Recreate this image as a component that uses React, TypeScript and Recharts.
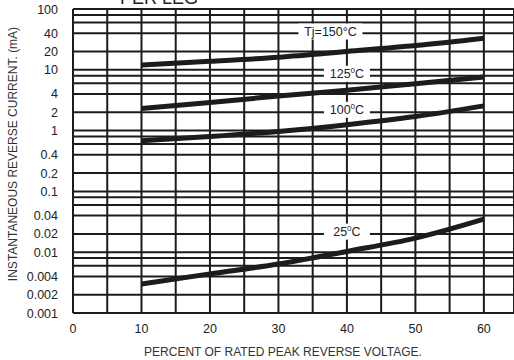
import React from 'react';
import { LineChart, Line, XAxis, YAxis, CartesianGrid, ReferenceDot } from 'recharts';

// percent of rated peak reverse voltage
const voltagePct = [10, 20, 30, 40, 50, 60];

// reverse current (mA) per junction temperature
const current150 = [12, 13.8, 16.1, 20, 25, 33];
const current125 = [2.3, 2.9, 3.7, 4.6, 5.9, 7.6];
const current100 = [0.68, 0.8, 0.97, 1.25, 1.7, 2.55];
const current25 = [0.003, 0.0044, 0.0064, 0.0103, 0.017, 0.035];

const xTicks = [0, 5, 10, 15, 20, 25, 30, 35, 40, 45, 50, 55, 60];
const xLabels = [0, 10, 20, 30, 40, 50, 60];

// every grid line on the log axis, and the ones that carry a label
const yGrid = [
  100, 80, 60, 40, 20, 10, 8, 6, 4, 2, 1, 0.8, 0.6, 0.4, 0.2, 0.1, 0.08, 0.06, 0.04, 0.02, 0.01,
  0.008, 0.006, 0.004, 0.002, 0.001,
];
const yLabels = [100, 40, 20, 10, 4, 2, 1, 0.4, 0.2, 0.1, 0.04, 0.02, 0.01, 0.004, 0.002, 0.001];

// curve tags: prefix, temperature, where they sit
const tagText = ['Tj=150', '125', '100', '25'];
const tagX = [37.6, 40, 40, 40];
const tagY = [42.6, 8.6, 2.2, 0.0218];

const data = voltagePct.map((v, i) => ({
  v,
  t150: current150[i],
  t125: current125[i],
  t100: current100[i],
  t25: current25[i],
}));

const FONT = '"Liberation Sans", Arial, Helvetica, sans-serif';
const INK = '#1c1c1c';

const YTick = (props: any) => {
  const { x, y, payload } = props;
  if (!yLabels.includes(payload.value)) return null;
  return (
    <text x={x} y={y} dy="0.36em" textAnchor="end" fontFamily={FONT} fontSize={12.5} fill="#222">
      {payload.value}
    </text>
  );
};

const XTick = (props: any) => {
  const { x, y, payload } = props;
  if (!xLabels.includes(payload.value)) return null;
  return (
    <text x={x} y={y} dy="0.71em" textAnchor="middle" fontFamily={FONT} fontSize={12.5} fill="#222">
      {payload.value}
    </text>
  );
};

const tagShape = (i: number) => (props: any) => {
  const { cx, cy } = props;
  const first = i === 0;
  const w = first ? 64 : 46;
  return (
    <g>
      <rect x={cx - w / 2} y={cy - 8} width={w} height={16} fill="#fff" />
      <text x={cx} y={cy} dy="0.36em" textAnchor="middle" fontFamily={FONT} fontSize={12.5} fill="#222">
        {tagText[i]}
        {first ? (
          <tspan>°C</tspan>
        ) : (
          <>
            <tspan fontSize={8} dy="-5">0</tspan>
            <tspan dy="5">C</tspan>
          </>
        )}
      </text>
    </g>
  );
};

export default function App() {
  return (
    <div style={{ position: 'absolute', left: 0, top: 0 }}>
      <LineChart width={514} height={360} data={data} margin={{ top: 9, right: 0, bottom: 0, left: 0 }}>
        <CartesianGrid stroke={INK} strokeWidth={2} />
        <XAxis
          dataKey="v"
          type="number"
          domain={[0, 64.4]}
          ticks={xTicks}
          interval={0}
          allowDataOverflow
          axisLine={false}
          tickLine={false}
          tickMargin={5}
          height={47}
          tick={<XTick />}
        />
        <YAxis
          type="number"
          scale="log"
          domain={[0.001, 100]}
          ticks={yGrid}
          interval={0}
          allowDataOverflow
          axisLine={false}
          tickLine={false}
          width={73}
          tickMargin={9}
          tick={<YTick />}
        />
        <Line dataKey="t150" type="monotone" stroke={INK} strokeWidth={5} dot={false} isAnimationActive={false} />
        <Line dataKey="t125" type="monotone" stroke={INK} strokeWidth={5} dot={false} isAnimationActive={false} />
        <Line dataKey="t100" type="monotone" stroke={INK} strokeWidth={5} dot={false} isAnimationActive={false} />
        <Line dataKey="t25" type="monotone" stroke={INK} strokeWidth={5} dot={false} isAnimationActive={false} />
        {tagText.map((_, i) => (
          <ReferenceDot key={i} x={tagX[i]} y={tagY[i]} r={0} shape={tagShape(i)} isFront />
        ))}
        <text x={159} y={4} textAnchor="middle" fontFamily={FONT} fontSize={18} fill="#222">
          PER LEG
        </text>
        <text
          x={13}
          y={154}
          transform="rotate(-90 13 154)"
          textAnchor="middle"
          dominantBaseline="central"
          fontFamily={FONT}
          fontSize={12}
          fill="#333"
        >
          INSTANTANEOUS REVERSE CURRENT. (mA)
        </text>
        <text x={283} y={352} textAnchor="middle" dominantBaseline="central" fontFamily={FONT} fontSize={12} fill="#333">
          PERCENT OF RATED PEAK REVERSE VOLTAGE.
        </text>
      </LineChart>
    </div>
  );
}
